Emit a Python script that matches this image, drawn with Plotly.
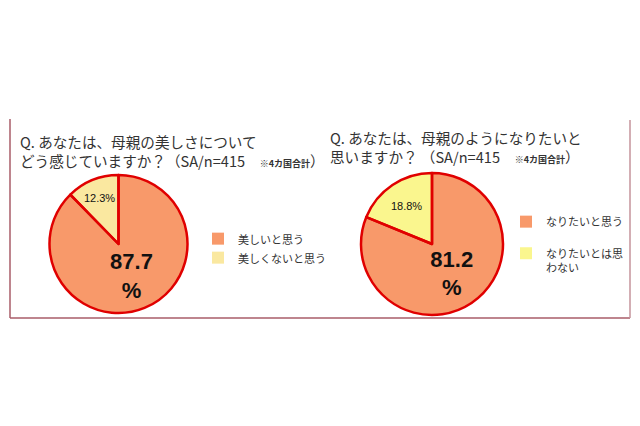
import plotly.graph_objects as go

# data
q1_labels = ["美しいと思う", "美しくないと思う"]
q1_values = [87.7, 12.3]
q2_labels = ["なりたいと思う<br> ", "なりたいとは思<br>わない"]
q2_values = [81.2, 18.8]

q1_title = ("Q. あなたは、母親の美しさについて<br>"
            "どう感じていますか？（SA/n=415　<span style='font-size:9px'><b>※4カ国合計</b></span>）")
q2_title = ("Q. あなたは、母親のようになりたいと<br>"
            "思いますか？ （SA/n=415　<span style='font-size:9px'><b>※4カ国合計</b></span>）")

ORANGE = "#f8996a"
RED = "#e00000"
JP = "Noto Sans CJK JP"
W, H = 640, 426
OFF = 8  # page margin the browser adds around the plot


def fx(x):
    return (x - OFF) / W


def fy(y):
    return (H - (y - OFF)) / H


def slice_text(values):
    # big slice bold on two lines, small slice plain
    return [f"<b>{values[0]}<br>%</b>", f"{values[1]}%"]


fig = go.Figure()

pies = [
    (q1_labels, q1_values, "#fae8a0", [fx(49), fx(188)], [fy(313), fy(175)], "legend"),
    (q2_labels, q2_values, "#faf68e", [fx(360), fx(504)], [fy(315), fy(173)], "legend2"),
]

for labels, values, yellow, dx, dy, leg in pies:
    fig.add_trace(go.Pie(
        labels=labels, values=values, sort=False,
        direction="clockwise", rotation=0,
        marker=dict(colors=[ORANGE, yellow], line=dict(width=0)),
        text=slice_text(values), textinfo="text",
        textposition="inside", insidetextorientation="horizontal",
        textfont=dict(family="Liberation Sans", size=[22, 11], color="#111"),
        domain=dict(x=dx, y=dy), legend=leg, hoverinfo="label+value",
    ))
    # outline drawn on top so legend swatches stay borderless
    fig.add_trace(go.Pie(
        labels=labels, values=values, sort=False,
        direction="clockwise", rotation=0,
        marker=dict(colors=["rgba(0,0,0,0)"] * 2, line=dict(color=RED, width=2.5)),
        textinfo="none", hoverinfo="skip", showlegend=False,
        domain=dict(x=dx, y=dy),
    ))

# panel frame
frame = "#a85d68"
fig.add_shape(type="line", xref="paper", yref="paper",
              x0=fx(10), x1=fx(10), y0=fy(318), y1=fy(119),
              line=dict(color=frame, width=1.5))
fig.add_shape(type="line", xref="paper", yref="paper",
              x0=fx(10), x1=fx(630), y0=fy(318), y1=fy(318),
              line=dict(color=frame, width=1.5))
fig.add_shape(type="line", xref="paper", yref="paper",
              x0=fx(630), x1=fx(630), y0=fy(318), y1=fy(120),
              line=dict(color="#c4939b", width=1.5))

fig.add_annotation(text=q1_title, xref="paper", yref="paper", x=fx(18), y=fy(151),
                   xanchor="left", yanchor="middle", align="left", showarrow=False,
                   font=dict(family=JP, size=14.6, color="#333"))
fig.add_annotation(text=q2_title, xref="paper", yref="paper", x=fx(328), y=fy(147),
                   xanchor="left", yanchor="middle", align="left", showarrow=False,
                   font=dict(family=JP, size=14.6, color="#333"))

legend_style = dict(font=dict(family=JP, size=11, color="#333"), bgcolor="rgba(0,0,0,0)",
                    itemwidth=30, valign="top")

fig.update_layout(
    width=W, height=H,
    margin=dict(l=0, r=0, t=0, b=0),
    paper_bgcolor="white", plot_bgcolor="white",
    legend=dict(x=fx(198), y=fy(225), xanchor="left", yanchor="top", **legend_style),
    legend2=dict(x=fx(506), y=fy(208), xanchor="left", yanchor="top", **legend_style),
)

fig.write_html("out.html")
